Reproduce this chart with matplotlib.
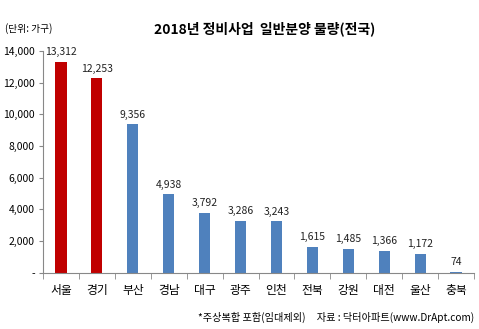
import numpy as np
import matplotlib.pyplot as plt
from matplotlib.ticker import FuncFormatter, FixedLocator

plt.rcParams['font.family'] = ['Noto Sans CJK KR', 'DejaVu Sans']

regions = ['서울', '경기', '부산', '경남', '대구', '광주', '인천', '전북', '강원', '대전', '울산', '충북']
units = [13312, 12253, 9356, 4938, 3792, 3286, 3243, 1615, 1485, 1366, 1172, 74]
highlight = ['서울', '경기']

RED = '#C00000'
BLUE = '#4F81BD'

fig = plt.figure(figsize=(4.79, 3.29), dpi=100)
ax = fig.add_axes([0.0898, 0.171, 0.8998, 0.6746])

x = np.arange(len(regions))
colors = [RED if r in highlight else BLUE for r in regions]
bars = ax.bar(x, units, width=0.31, color=colors, zorder=2)

for b, v in zip(bars, units):
    ax.text(b.get_x() + b.get_width() / 2, v + 300, f'{v:,}',
            ha='center', va='bottom', fontsize=7.5, color='#222222')

ax.set_xlim(-0.5, len(regions) - 0.5)
ax.set_ylim(0, 14000)
ax.set_yticks(range(0, 14001, 2000))
ax.yaxis.set_major_formatter(FuncFormatter(lambda v, p: '-' if v == 0 else f'{int(v):,}'))

# labels centered under bars, tick marks between categories
ax.set_xticks(x)
ax.set_xticklabels(regions, fontsize=8.5)
ax.tick_params(axis='x', length=0, pad=8)
ax.xaxis.set_minor_locator(FixedLocator(np.arange(-0.5, len(regions), 1.0)))
ax.tick_params(axis='x', which='minor', length=4, color='#888888', direction='out')
ax.tick_params(axis='y', labelsize=7.5, length=3, color='#888888', pad=3)

for s in ['top', 'right']:
    ax.spines[s].set_visible(False)
for s in ['left', 'bottom']:
    ax.spines[s].set_color('#888888')
    ax.spines[s].set_linewidth(0.8)

fig.text(0.553, 0.912, '2018년 정비사업  일반분양 물량(전국)', ha='center', va='center',
         fontsize=10, fontweight='bold')
fig.text(0.01, 0.912, '(단위: 가구)', ha='left', va='center', fontsize=7)
fig.text(0.99, 0.035, '*주상복합 포함(임대제외)     자료 : 닥터아파트(www.DrApt.com)',
         ha='right', va='center', fontsize=7.3)

fig.savefig('out.png', dpi=100)
